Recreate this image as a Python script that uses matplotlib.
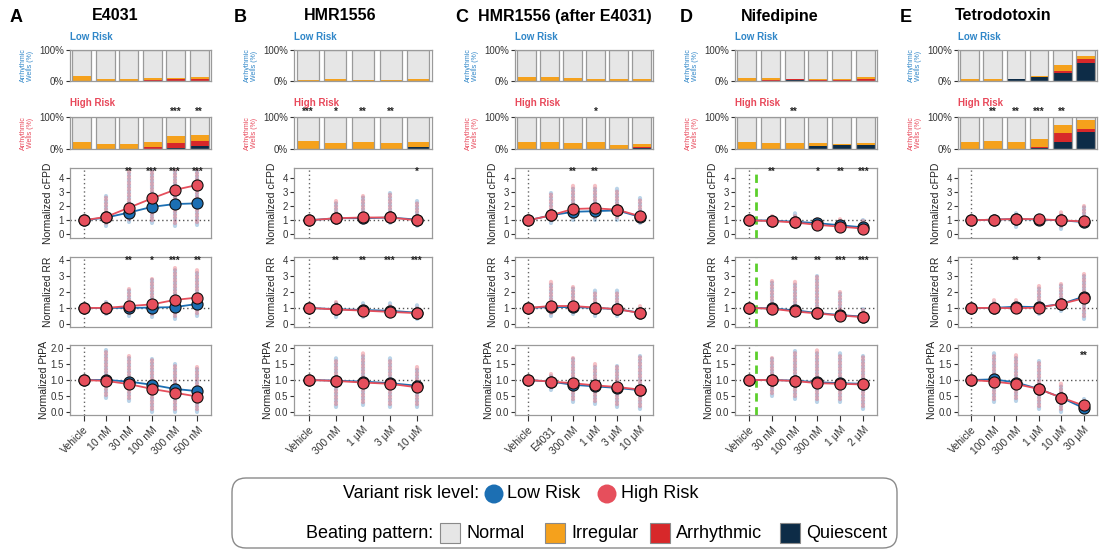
import matplotlib
matplotlib.use("Agg")
import matplotlib.pyplot as plt
from matplotlib.patches import FancyBboxPatch, Rectangle, Circle
import numpy as np

plt.rcParams['font.family'] = ['Liberation Sans', 'DejaVu Sans']

# ---------------- data ----------------
# E4031
A_title = "E4031"
A_doses = ["Vehicle", "10 nM", "30 nM", "100 nM", "300 nM", "500 nM"]
A_low_irregular = [17, 8, 8, 8, 4, 5]
A_low_arrhythmic = [0, 0, 0, 2, 5, 8]
A_low_quiescent = [0, 0, 0, 0, 1, 0]
A_high_irregular = [21, 15, 17, 17, 20, 20]
A_high_arrhythmic = [0, 0, 0, 6, 17, 16]
A_high_quiescent = [0, 0, 0, 0, 3, 9]
A_high_stars = ["", "", "", "", "***", "**"]
A_cfpd_low = [1.0, 1.2, 1.55, 1.95, 2.15, 2.2]
A_cfpd_high = [1.0, 1.25, 1.9, 2.55, 3.15, 3.5]
A_cfpd_min = [1.0, 0.6, 0.9, 0.8, 0.6, 0.7]
A_cfpd_max = [1.0, 2.7, 4.5, 4.6, 4.6, 4.6]
A_cfpd_stars = ["", "", "**", "***", "***", "***"]
A_rr_low = [1.0, 1.0, 1.0, 1.02, 1.05, 1.25]
A_rr_high = [1.0, 1.0, 1.12, 1.22, 1.5, 1.65]
A_rr_min = [1.0, 0.6, 0.5, 0.4, 0.3, 0.5]
A_rr_max = [1.0, 1.4, 2.2, 2.8, 3.5, 3.4]
A_rr_stars = ["", "", "**", "*", "***", "**"]
A_ptpa_low = [1.0, 1.0, 0.95, 0.85, 0.72, 0.65]
A_ptpa_high = [1.0, 0.97, 0.87, 0.72, 0.6, 0.48]
A_ptpa_min = [1.0, 0.45, 0.35, 0.0, 0.0, 0.0]
A_ptpa_max = [1.0, 1.95, 1.75, 1.65, 1.5, 1.4]
A_ptpa_stars = ["", "", "", "", "", ""]

# HMR1556
B_title = "HMR1556"
B_doses = ["Vehicle", "300 nM", "1 \u03bcM", "3 \u03bcM", "10 \u03bcM"]
B_low_irregular = [3, 5, 3, 3, 5]
B_low_arrhythmic = [0, 0, 0, 0, 0]
B_low_quiescent = [0, 0, 0, 0, 0]
B_high_irregular = [25, 20, 23, 20, 15]
B_high_arrhythmic = [0, 0, 0, 0, 1]
B_high_quiescent = [0, 0, 0, 0, 6]
B_high_stars = ["***", "*", "**", "**", ""]
B_cfpd_low = [1.0, 1.15, 1.15, 1.2, 1.05]
B_cfpd_high = [1.0, 1.15, 1.2, 1.2, 1.0]
B_cfpd_min = [1.0, 0.8, 0.8, 0.8, 0.6]
B_cfpd_max = [1.0, 2.4, 2.7, 2.9, 2.4]
B_cfpd_stars = ["", "", "", "", "*"]
B_rr_low = [1.0, 0.92, 0.87, 0.82, 0.7]
B_rr_high = [1.0, 0.9, 0.83, 0.75, 0.67]
B_rr_min = [1.0, 0.4, 0.4, 0.4, 0.3]
B_rr_max = [1.0, 1.4, 1.3, 1.3, 1.2]
B_rr_stars = ["", "**", "**", "***", "***"]
B_ptpa_low = [1.0, 0.98, 0.95, 0.9, 0.82]
B_ptpa_high = [1.0, 0.97, 0.92, 0.88, 0.77]
B_ptpa_min = [1.0, 0.15, 0.2, 0.15, 0.15]
B_ptpa_max = [1.0, 1.7, 1.85, 1.7, 1.4]
B_ptpa_stars = ["", "", "", "", ""]

# HMR1556 after E4031
C_title = "HMR1556 (after E4031)"
C_doses = ["Vehicle", "E4031", "300 nM", "1 \u03bcM", "3 \u03bcM", "10 \u03bcM"]
C_low_irregular = [12, 12, 9, 6, 6, 6]
C_low_arrhythmic = [0, 0, 0, 0, 0, 0]
C_low_quiescent = [0, 0, 0, 0, 0, 0]
C_high_irregular = [22, 22, 20, 22, 12, 12]
C_high_arrhythmic = [0, 0, 0, 0, 0, 1]
C_high_quiescent = [0, 0, 0, 0, 0, 4]
C_high_stars = ["", "", "", "*", "", ""]
C_cfpd_low = [1.0, 1.35, 1.6, 1.65, 1.7, 1.25]
C_cfpd_high = [1.0, 1.35, 1.8, 1.85, 1.75, 1.3]
C_cfpd_min = [1.0, 0.8, 1.0, 1.0, 1.0, 0.8]
C_cfpd_max = [1.0, 2.9, 3.5, 3.5, 3.3, 2.6]
C_cfpd_stars = ["", "", "**", "**", "", ""]
C_rr_low = [1.0, 1.05, 1.05, 1.0, 0.92, 0.7]
C_rr_high = [1.0, 1.12, 1.12, 1.02, 0.92, 0.68]
C_rr_min = [1.0, 0.5, 0.6, 0.5, 0.5, 0.4]
C_rr_max = [1.0, 2.7, 2.3, 2.1, 2.1, 1.1]
C_rr_stars = ["", "", "", "", "", ""]
C_ptpa_low = [1.0, 0.95, 0.85, 0.8, 0.75, 0.68]
C_ptpa_high = [1.0, 0.95, 0.9, 0.83, 0.78, 0.7]
C_ptpa_min = [1.0, 0.7, 0.3, 0.25, 0.15, 0.1]
C_ptpa_max = [1.0, 1.2, 1.7, 1.5, 1.45, 1.75]
C_ptpa_stars = ["", "", "", "", "", ""]

# Nifedipine
D_title = "Nifedipine"
D_doses = ["Vehicle", "30 nM", "100 nM", "300 nM", "1 \u03bcM", "2 \u03bcM"]
D_low_irregular = [9, 5, 0, 2, 2, 6]
D_low_arrhythmic = [0, 4, 4, 4, 4, 6]
D_low_quiescent = [0, 0, 2, 0, 0, 0]
D_high_irregular = [22, 18, 18, 12, 5, 8]
D_high_arrhythmic = [0, 0, 0, 0, 0, 0]
D_high_quiescent = [0, 0, 0, 8, 12, 12]
D_high_stars = ["", "", "**", "", "", ""]
D_cfpd_low = [1.0, 0.98, 0.9, 0.8, 0.65, 0.5]
D_cfpd_high = [1.0, 0.95, 0.85, 0.68, 0.55, 0.42]
D_cfpd_min = [1.0, 0.6, 0.5, 0.4, 0.3, 0.2]
D_cfpd_max = [1.0, 1.3, 1.5, 1.1, 1.1, 1.0]
D_cfpd_stars = ["", "**", "", "*", "**", "***"]
D_rr_low = [1.0, 0.97, 0.85, 0.68, 0.55, 0.45]
D_rr_high = [1.0, 0.95, 0.78, 0.65, 0.52, 0.42]
D_rr_min = [1.0, 0.6, 0.5, 0.4, 0.3, 0.2]
D_rr_max = [1.0, 2.7, 2.7, 3.0, 2.0, 0.9]
D_rr_stars = ["", "", "**", "**", "***", "***"]
D_ptpa_low = [1.0, 1.0, 0.98, 0.93, 0.9, 0.88]
D_ptpa_high = [1.0, 1.0, 0.97, 0.9, 0.88, 0.86]
D_ptpa_min = [1.0, 0.5, 0.4, 0.3, 0.3, 0.1]
D_ptpa_max = [1.0, 1.7, 1.9, 1.95, 1.85, 1.75]
D_ptpa_stars = ["", "", "", "", "", ""]

# Tetrodotoxin
E_title = "Tetrodotoxin"
E_doses = ["Vehicle", "100 nM", "300 nM", "1 \u03bcM", "10 \u03bcM", "30 \u03bcM"]
E_low_irregular = [8, 5, 3, 3, 18, 11]
E_low_arrhythmic = [0, 0, 0, 0, 6, 14]
E_low_quiescent = [0, 0, 5, 12, 27, 57]
E_high_irregular = [22, 25, 22, 25, 26, 26]
E_high_arrhythmic = [0, 0, 0, 3, 26, 10]
E_high_quiescent = [0, 0, 0, 2, 23, 54]
E_high_stars = ["", "**", "**", "***", "**", ""]
E_cfpd_low = [1.0, 1.05, 1.1, 1.05, 1.0, 0.88]
E_cfpd_high = [1.0, 1.05, 1.1, 1.08, 1.0, 0.92]
E_cfpd_min = [1.0, 0.8, 0.5, 0.8, 0.4, 0.5]
E_cfpd_max = [1.0, 1.3, 1.5, 1.4, 1.6, 2.0]
E_cfpd_stars = ["", "", "", "", "", ""]
E_rr_low = [1.0, 1.0, 1.08, 1.05, 1.25, 1.7]
E_rr_high = [1.0, 1.0, 0.98, 1.02, 1.25, 1.6]
E_rr_min = [1.0, 0.8, 0.8, 0.6, 0.8, 0.3]
E_rr_max = [1.0, 1.5, 1.5, 2.4, 2.5, 3.1]
E_rr_stars = ["", "", "**", "*", "", ""]
E_ptpa_low = [1.0, 1.02, 0.92, 0.72, 0.45, 0.12]
E_ptpa_high = [1.0, 0.95, 0.87, 0.72, 0.45, 0.2]
E_ptpa_min = [1.0, 0.3, 0.35, 0.1, 0.0, 0.0]
E_ptpa_max = [1.0, 1.85, 1.8, 1.6, 0.9, 0.4]
E_ptpa_stars = ["", "", "", "", "", "**"]

# ---------------- style ----------------
BLUE = "#1c6fb3"
RED = "#e64f5c"
LOW_TXT = "#2f86c8"
HIGH_TXT = "#e8485a"
C_NORMAL = "#e6e6e6"
C_IRREG = "#f5a11c"
C_ARRH = "#d7282a"
C_QUIES = "#0d2c47"
FRAME = "#9a9a9a"

W, H = 1102, 554
fig = plt.figure(figsize=(W / 100, H / 100), dpi=100)


def add_px(left, top, right, bottom):
    return fig.add_axes([left / W, 1 - bottom / H, (right - left) / W, (bottom - top) / H])


def style_frame(ax):
    for s in ax.spines.values():
        s.set_color(FRAME)
        s.set_linewidth(0.9)
    ax.tick_params(axis='both', colors='#333333', length=3, width=0.8, labelsize=7, pad=1.2)


def bar_panel(cols, top, bottom, irr, arr, qui, stars, label_color):
    left, right = cols
    ax = add_px(left, top, right, bottom)
    n = len(irr)
    x = np.arange(n)
    qui = np.array(qui, float)
    arr = np.array(arr, float)
    irr = np.array(irr, float)
    ax.bar(x, 100, width=0.8, color=C_NORMAL, edgecolor='none')
    ax.bar(x, qui, width=0.8, color=C_QUIES, edgecolor='none')
    ax.bar(x, arr, bottom=qui, width=0.8, color=C_ARRH, edgecolor='none')
    ax.bar(x, irr, bottom=qui + arr, width=0.8, color=C_IRREG, edgecolor='none')
    ax.bar(x, 100, width=0.8, fill=False, edgecolor=FRAME, linewidth=0.9)
    for xi, s in zip(x, stars):
        if s:
            ax.text(xi, 101, s, ha='center', va='bottom', fontsize=7, fontweight='bold',
                    color='#222222')
    ax.set_xlim(-0.5, n - 0.5)
    ax.set_ylim(0, 100)
    ax.set_xticks([])
    ax.set_yticks([0, 100])
    ax.set_yticklabels(["0%", "100%"])
    style_frame(ax)
    ax.set_ylabel("Arrhythmic\nWells (%)", fontsize=5, color=label_color, linespacing=1.0)
    ax.yaxis.set_label_coords(-36 / (right - left), 0.5)
    return ax


def metric_panel(cols, top, bottom, low, high, vmin, vmax, stars, ylabel, ylim, yticks,
                 yticklabels, star_y, label_gap, doses=None, green=False):
    left, right = cols
    ax = add_px(left, top, right, bottom)
    n = len(low)
    x = np.arange(n)
    pad = 0.6 if n == 6 else 0.55
    ax.axhline(1, color='#555555', ls=(0, (1, 2)), lw=1.0, zorder=1)
    ax.axvline(0, color='#666666', ls=(0, (1, 2)), lw=1.0, zorder=1)
    if green:
        ax.axvline(0.3, color='#5ccf2b', ls=(0, (3, 2)), lw=2.0, zorder=1)
    # spread of individual wells
    ax.vlines(x, vmin, vmax, colors=BLUE, alpha=0.3, linewidth=3.0,
              linestyles=(0, (0.5, 0.9)), capstyle='round', zorder=2)
    ax.vlines(x, vmin, vmax, colors=RED, alpha=0.35, linewidth=3.0,
              linestyles=(0.7, (0.5, 0.9)), capstyle='round', zorder=2)
    ax.plot(x, low, '-o', color=BLUE, mec='#111111', mew=0.8, ms=8, lw=1.3, zorder=4)
    ax.plot(x, high, '-o', color=RED, mec='#111111', mew=0.8, ms=8, lw=1.3, zorder=5)
    for xi, s in zip(x, stars):
        if s:
            ax.text(xi, star_y, s, ha='center', va='center', fontsize=7, fontweight='bold',
                    color='#222222')
    ax.set_xlim(-pad, n - 1 + pad)
    ax.set_ylim(*ylim)
    ax.set_yticks(yticks)
    ax.set_yticklabels(yticklabels)
    style_frame(ax)
    if doses is None:
        ax.set_xticks([])
    else:
        ax.set_xticks(x)
        ax.set_xticklabels(doses, rotation=45, ha='right', rotation_mode='anchor', fontsize=7.5)
        ax.tick_params(axis='x', length=4, pad=3)
    ax.set_ylabel(ylabel, fontsize=7.5, color='#222222')
    ax.yaxis.set_label_coords(-label_gap / (right - left), 0.5)
    return ax


panels = [
    ("A", A_title, A_doses, (70, 211), 10, 115,
     (A_low_irregular, A_low_arrhythmic, A_low_quiescent),
     (A_high_irregular, A_high_arrhythmic, A_high_quiescent, A_high_stars),
     (A_cfpd_low, A_cfpd_high, A_cfpd_min, A_cfpd_max, A_cfpd_stars),
     (A_rr_low, A_rr_high, A_rr_min, A_rr_max, A_rr_stars),
     (A_ptpa_low, A_ptpa_high, A_ptpa_min, A_ptpa_max, A_ptpa_stars), False),
    ("B", B_title, B_doses, (294, 432), 234, 340,
     (B_low_irregular, B_low_arrhythmic, B_low_quiescent),
     (B_high_irregular, B_high_arrhythmic, B_high_quiescent, B_high_stars),
     (B_cfpd_low, B_cfpd_high, B_cfpd_min, B_cfpd_max, B_cfpd_stars),
     (B_rr_low, B_rr_high, B_rr_min, B_rr_max, B_rr_stars),
     (B_ptpa_low, B_ptpa_high, B_ptpa_min, B_ptpa_max, B_ptpa_stars), False),
    ("C", C_title, C_doses, (515, 653), 455, 565,
     (C_low_irregular, C_low_arrhythmic, C_low_quiescent),
     (C_high_irregular, C_high_arrhythmic, C_high_quiescent, C_high_stars),
     (C_cfpd_low, C_cfpd_high, C_cfpd_min, C_cfpd_max, C_cfpd_stars),
     (C_rr_low, C_rr_high, C_rr_min, C_rr_max, C_rr_stars),
     (C_ptpa_low, C_ptpa_high, C_ptpa_min, C_ptpa_max, C_ptpa_stars), False),
    ("D", D_title, D_doses, (735, 877), 680, 780,
     (D_low_irregular, D_low_arrhythmic, D_low_quiescent),
     (D_high_irregular, D_high_arrhythmic, D_high_quiescent, D_high_stars),
     (D_cfpd_low, D_cfpd_high, D_cfpd_min, D_cfpd_max, D_cfpd_stars),
     (D_rr_low, D_rr_high, D_rr_min, D_rr_max, D_rr_stars),
     (D_ptpa_low, D_ptpa_high, D_ptpa_min, D_ptpa_max, D_ptpa_stars), True),
    ("E", E_title, E_doses, (958, 1097), 900, 1003,
     (E_low_irregular, E_low_arrhythmic, E_low_quiescent),
     (E_high_irregular, E_high_arrhythmic, E_high_quiescent, E_high_stars),
     (E_cfpd_low, E_cfpd_high, E_cfpd_min, E_cfpd_max, E_cfpd_stars),
     (E_rr_low, E_rr_high, E_rr_min, E_rr_max, E_rr_stars),
     (E_ptpa_low, E_ptpa_high, E_ptpa_min, E_ptpa_max, E_ptpa_stars), False),
]

for (letter, title, doses, cols, letter_x, title_x, lowb, highb, cfpd, rr, ptpa,
     green) in panels:
    fig.text(letter_x / W, 1 - 18 / H, letter, fontsize=13, fontweight='bold',
             ha='left', va='center')
    fig.text(title_x / W, 1 - 16 / H, title, fontsize=11.5, fontweight='bold',
             ha='center', va='center')
    fig.text(cols[0] / W, 1 - 37 / H, "Low Risk", fontsize=7, fontweight='bold',
             color=LOW_TXT, ha='left', va='center')
    fig.text(cols[0] / W, 1 - 103 / H, "High Risk", fontsize=7, fontweight='bold',
             color=HIGH_TXT, ha='left', va='center')
    bar_panel(cols, 50, 81, lowb[0], lowb[1], lowb[2], [""] * len(doses), LOW_TXT)
    bar_panel(cols, 117, 149, highb[0], highb[1], highb[2], highb[3], HIGH_TXT)
    metric_panel(cols, 168, 238, *cfpd, "Normalized cFPD", (-0.25, 4.7), [0, 1, 2, 3, 4],
                 ["0", "1", "2", "3", "4"], 4.4, 17, green=green)
    metric_panel(cols, 257, 327, *rr, "Normalized RR", (-0.2, 4.2), [0, 1, 2, 3, 4],
                 ["0", "1", "2", "3", "4"], 3.95, 17, green=green)
    metric_panel(cols, 345, 415, *ptpa, "Normalized PtPA", (-0.1, 2.1),
                 [0, 0.5, 1.0, 1.5, 2.0], ["0.0", "0.5", "1.0", "1.5", "2.0"], 1.75, 21,
                 doses=doses, green=green)

# ---------------- legend ----------------
lax = fig.add_axes([0, 0, 1, 1])
lax.set_xlim(0, W)
lax.set_ylim(H, 0)
lax.axis('off')
lax.add_patch(FancyBboxPatch((232, 478), 665, 70, boxstyle="round,pad=0,rounding_size=14",
                             facecolor='white', edgecolor='#8a8a8a', linewidth=1.0))
fs = 13
y1, y2 = 494, 533
lax.text(479, y1, "Variant risk level:", fontsize=fs, ha='right', va='center')
lax.add_patch(Circle((494, y1), 9.5, facecolor=BLUE, edgecolor='none'))
lax.text(507, y1, "Low Risk", fontsize=fs, ha='left', va='center')
lax.add_patch(Circle((607, y1), 9.5, facecolor=RED, edgecolor='none'))
lax.text(621, y1, "High Risk", fontsize=fs, ha='left', va='center')

lax.text(433, y2, "Beating pattern:", fontsize=fs, ha='right', va='center')
for x0, col, name in [(440, C_NORMAL, "Normal"), (545, C_IRREG, "Irregular"),
                      (650, C_ARRH, "Arrhythmic"), (780, C_QUIES, "Quiescent")]:
    lax.add_patch(Rectangle((x0, y2 - 10), 20, 20, facecolor=col, edgecolor='#8a8a8a',
                            linewidth=0.8))
    lax.text(x0 + 26, y2, name, fontsize=fs, ha='left', va='center')

fig.savefig("out.png", dpi=100)
